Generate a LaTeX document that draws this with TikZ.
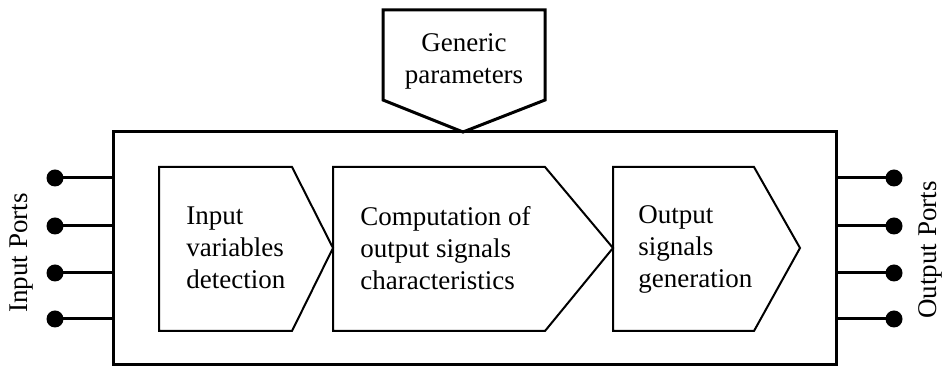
\documentclass[tikz,border=0pt]{standalone}
\usepackage{fontspec}
\setmainfont{Liberation Serif}
\usepackage{tikz}
\usetikzlibrary{positioning, calc}

\begin{document}
\begin{tikzpicture}[
  x=0.5pt, y=-0.5pt,
  frame/.style={line width=1.5pt, line join=miter},
  stage/.style={line width=1pt, line join=miter},
  lbl/.style={font=\fontsize{13.5}{16}\selectfont, align=left, inner sep=0pt},
  port/.style={line width=1.5pt},
  dot/.style={circle, fill, inner sep=0pt, minimum size=8.5pt}
]
  \useasboundingbox (0,0) rectangle (943,367);

  % main block
  \node[draw, frame, minimum width=361.5pt, minimum height=116.5pt, inner sep=0pt] (core) at (474.5,248.5) {};

  % generic parameters
  \coordinate (gentip) at (463,132);
  \draw[frame] (383,10) -- (545,10) -- (545,100) -- (gentip) -- (383,100) -- cycle;
  \node[lbl, align=center] (gen) at (464,61) {Generic\\parameters};

  % processing stages
  \draw[stage] (159,167) -- (292,167) -- (333,248) -- (292,331) -- (159,331) -- cycle;
  \node[lbl, anchor=west] (detect) at (186,248) {Input\\variables\\detection};

  \draw[stage] (333,167) -- (545,167) -- (613,248) -- (545,331) -- (333,331) -- cycle;
  \node[lbl, anchor=west] (compute) at (360,248) {Computation of\\output signals\\characteristics};

  \draw[stage] (613,167) -- (754,167) -- (800,248) -- (754,331) -- (613,331) -- cycle;
  \node[lbl, anchor=west] (generate) at (638,249) {Output\\signals\\generation};

  % ports
  \foreach \y [count=\i] in {178,226,273,319} {
    \node[dot] (in\i) at (55,\y) {};
    \draw[port] (in\i.center) -- (in\i -| core.west);
    \node[dot] (out\i) at (894,\y) {};
    \draw[port] (out\i.center) -- (out\i -| core.east);
  }

  \node[lbl, rotate=90] (inlbl) at (22,253) {Input Ports};
  \node[lbl, rotate=90] (outlbl) at (930,250) {Output Ports};
\end{tikzpicture}
\end{document}
